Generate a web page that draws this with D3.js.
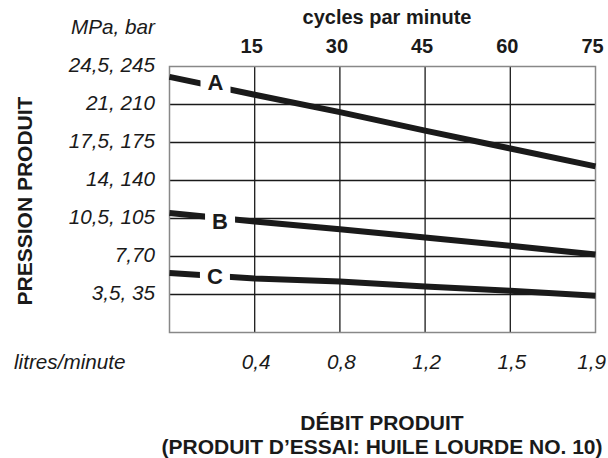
<!DOCTYPE html>
<html>
<head>
<meta charset="utf-8">
<script src="https://cdn.jsdelivr.net/npm/d3@7"></script>
<style>
  html, body { margin: 0; padding: 0; background: #fff; }
  svg { display: block; font-family: "Liberation Sans", Arial, Helvetica, sans-serif; }
</style>
</head>
<body>
<svg id="chart" width="608" height="458"></svg>
<script>
// ---- data ----
const cycles = [0, 15, 30, 45, 60, 75];
const cycleTicks = [15, 30, 45, 60, 75];
const flowLabels = ["0,4", "0,8", "1,2", "1,5", "1,9"];
const pressureTicks = [35, 70, 105, 140, 175, 210, 245];
const pressureLabels = ["3,5, 35", "7,70", "10,5, 105", "14, 140", "17,5, 175", "21, 210", "24,5, 245"];
const seriesNames = ["A", "B", "C"];
const seriesA = [235.5, 219, 203, 186, 169.5, 153];
const seriesB = [110, 102.2, 95.2, 87.5, 79.9, 71.8];
const seriesC = [54.7, 49.7, 47, 42.4, 38.4, 33.8];
const labelCycles = [8.1, 8.9, 8.0];

const series = [seriesA, seriesB, seriesC];
const labelShift = [-4, 3, 0];

// ---- chart ----
const svg = d3.select("#chart");
const x = d3.scaleLinear().domain([0, 75]).range([169.5, 595.5]);
const y = d3.scaleLinear().domain([0, 245]).range([332.5, 66.5]);

const ink = "#1a1a1a";
const labelSize = 20.7;
const boldSize = 21;

// grid
const g = svg.append("g");
g.selectAll("line.v").data(cycleTicks.slice(0, -1)).join("line")
  .attr("x1", d => x(d)).attr("x2", d => x(d))
  .attr("y1", y(245)).attr("y2", y(0))
  .attr("stroke", ink).attr("stroke-width", 1.3);
g.selectAll("line.h").data(pressureTicks.slice(0, -1)).join("line")
  .attr("x1", x(0)).attr("x2", x(75))
  .attr("y1", d => y(d)).attr("y2", d => y(d))
  .attr("stroke", ink).attr("stroke-width", 1.3);
g.append("rect")
  .attr("x", x(0)).attr("y", y(245))
  .attr("width", x(75) - x(0)).attr("height", y(0) - y(245))
  .attr("fill", "none").attr("stroke", "#888").attr("stroke-width", 1.5);

// series lines
const line = d3.line().x((d, i) => x(cycles[i])).y(d => y(d));
const interp = (vals, c) => {
  const i = Math.min(cycles.length - 2, Math.floor(c / 15));
  const t = (c - cycles[i]) / (cycles[i + 1] - cycles[i]);
  return vals[i] + t * (vals[i + 1] - vals[i]);
};
series.forEach((vals, k) => {
  svg.append("path").datum(vals)
    .attr("d", line)
    .attr("fill", "none").attr("stroke", ink).attr("stroke-width", 6);
  const cx = x(labelCycles[k]);
  const cy = y(interp(vals, labelCycles[k]));
  svg.append("rect")
    .attr("x", cx - 15).attr("y", cy - 8).attr("width", 30).attr("height", 16)
    .attr("fill", "#fff");
  svg.append("text")
    .attr("x", cx).attr("y", cy + labelShift[k]).attr("dy", "0.36em")
    .attr("text-anchor", "middle")
    .attr("font-weight", "bold").attr("font-size", 22).attr("fill", ink)
    .text(seriesNames[k]);
});

// top axis labels
svg.append("text").attr("x", 387).attr("y", 24)
  .attr("text-anchor", "middle").attr("font-weight", "bold").attr("font-size", 20)
  .attr("fill", ink).text("cycles par minute");
svg.selectAll("text.top").data(cycleTicks).join("text")
  .attr("x", d => x(d) - 3).attr("y", 53)
  .attr("text-anchor", "middle").attr("font-weight", "bold").attr("font-size", 20)
  .attr("fill", ink).text(d => d);

// left axis labels
svg.append("text").attr("x", 155).attr("y", 34)
  .attr("text-anchor", "end").attr("font-style", "italic").attr("font-size", labelSize)
  .attr("fill", ink).text("MPa, bar");
svg.selectAll("text.left").data(pressureTicks).join("text")
  .attr("x", 155).attr("y", d => y(d) - 2).attr("dy", "0.36em")
  .attr("text-anchor", "end").attr("font-style", "italic").attr("font-size", labelSize)
  .attr("fill", ink).text((d, i) => pressureLabels[i]);

// bottom axis labels
svg.append("text").attr("x", 14).attr("y", 369)
  .attr("font-style", "italic").attr("font-size", labelSize)
  .attr("fill", ink).text("litres/minute");
const lastTick = cycleTicks.length - 1;
svg.selectAll("text.bottom").data(cycleTicks).join("text")
  .attr("x", (d, i) => i === lastTick ? 606 : x(d) + 1.5).attr("y", 369)
  .attr("text-anchor", (d, i) => i === lastTick ? "end" : "middle")
  .attr("font-style", "italic").attr("font-size", labelSize)
  .attr("fill", ink).text((d, i) => flowLabels[i]);

// vertical title
svg.append("text")
  .attr("transform", "translate(32,201) rotate(-90)")
  .attr("text-anchor", "middle").attr("font-weight", "bold").attr("font-size", boldSize)
  .attr("fill", ink).text("PRESSION PRODUIT");

// bottom title
svg.append("text").attr("x", 382).attr("y", 430)
  .attr("text-anchor", "middle").attr("font-weight", "bold").attr("font-size", boldSize)
  .attr("fill", ink).text("DÉBIT PRODUIT");
svg.append("text").attr("x", 382).attr("y", 454)
  .attr("text-anchor", "middle").attr("font-weight", "bold").attr("font-size", boldSize)
  .attr("fill", ink).text("(PRODUIT D’ESSAI: HUILE LOURDE NO. 10)");
</script>
</body>
</html>
